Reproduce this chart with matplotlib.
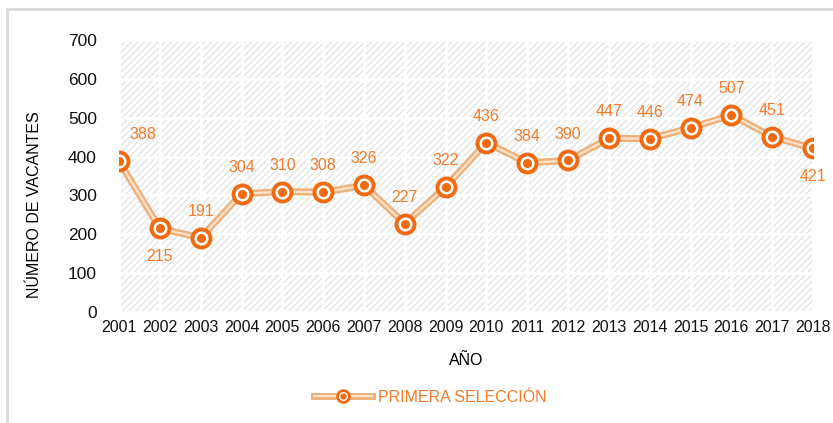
import matplotlib.pyplot as plt
import numpy as np
from matplotlib.lines import Line2D
from matplotlib.patches import Rectangle
from matplotlib.legend_handler import HandlerTuple

years = ['2001', '2002', '2003', '2004', '2005', '2006', '2007', '2008', '2009',
         '2010', '2011', '2012', '2013', '2014', '2015', '2016', '2017', '2018']
vacantes = [388, 215, 191, 304, 310, 308, 326, 227, 322,
            436, 384, 390, 447, 446, 474, 507, 451, 421]
# labels under the point for these years
below = ['2002', '2018']

orange = '#F26A10'
label_orange = '#F37A2A'
tan = '#EDB07C'
pale = '#FBE3CC'

plt.rcParams['font.family'] = ['Liberation Sans', 'DejaVu Sans']
plt.rcParams['hatch.color'] = '#DCDCDC'
plt.rcParams['hatch.linewidth'] = 0.8

fig = plt.figure(figsize=(8.33, 4.23), dpi=100)
ax = fig.add_axes([0.1429, 0.2624, 0.8331, 0.643])

# outer frame
fig.patches.append(Rectangle((7 / 833, -0.1), 1.2, 1 - 9 / 423 + 0.1, transform=fig.transFigure,
                             fill=False, edgecolor='#D9D9D9', linewidth=2))

x = np.arange(len(years))

ax.add_patch(Rectangle((0, 0), len(years) - 1, 700, facecolor='white', edgecolor='#E0E0E0',
                       hatch='/////', linewidth=0, zorder=0))
ax.set_axisbelow(True)
ax.grid(True, color='white', linewidth=2)

l1, = ax.plot(x, vacantes, color=tan, linewidth=5, zorder=2, solid_capstyle='round')
l2, = ax.plot(x, vacantes, color=pale, linewidth=1.6, zorder=3)
m1, = ax.plot(x, vacantes, 'o', markersize=13, markerfacecolor='white',
              markeredgecolor=orange, markeredgewidth=2.8, zorder=4)
m2, = ax.plot(x, vacantes, 'o', markersize=5.5, color=orange, zorder=5)

for xi, yr, v in zip(x, years, vacantes):
    dx = 17 if xi == 0 else 0
    dy = -20 if yr in below else 19
    ax.annotate(str(v), (xi, v), xytext=(dx, dy), textcoords='offset points',
                ha='center', va='center', color=label_orange, fontsize=11.5)

ax.set_xlim(0, len(years) - 1)
ax.set_ylim(0, 700)
ax.set_yticks(np.arange(0, 701, 100))
ax.set_xticks(x)
ax.set_xticklabels(years)
ax.tick_params(length=0, colors='#111111')
ax.tick_params(axis='x', labelsize=11.5, pad=6)
ax.tick_params(axis='y', labelsize=12.5, pad=16)
for s in ax.spines.values():
    s.set_visible(False)

ax.set_xlabel('AÑO', fontsize=11.5, labelpad=13)
ax.set_ylabel('NÚMERO DE VACANTES', fontsize=11.5)
ax.yaxis.set_label_coords(-0.111, 0.393)

h1 = Line2D([], [], color=tan, linewidth=5)
h2 = Line2D([], [], color=pale, linewidth=1.6)
h3 = Line2D([], [], marker='o', linestyle='none', markersize=8.5, markerfacecolor='white',
            markeredgecolor=orange, markeredgewidth=2)
h4 = Line2D([], [], marker='o', linestyle='none', markersize=3.5, color=orange)
leg = fig.legend([(h1, h2, h3, h4)], ['PRIMERA SELECCIÓN'], loc='center',
                 bbox_to_anchor=(0.517, 1 - 397 / 423), frameon=False, fontsize=11.5,
                 handlelength=3.6, handletextpad=0.4,
                 handler_map={tuple: HandlerTuple(ndivide=1)})
for t in leg.get_texts():
    t.set_color(label_orange)

plt.savefig('out.png', dpi=100)
